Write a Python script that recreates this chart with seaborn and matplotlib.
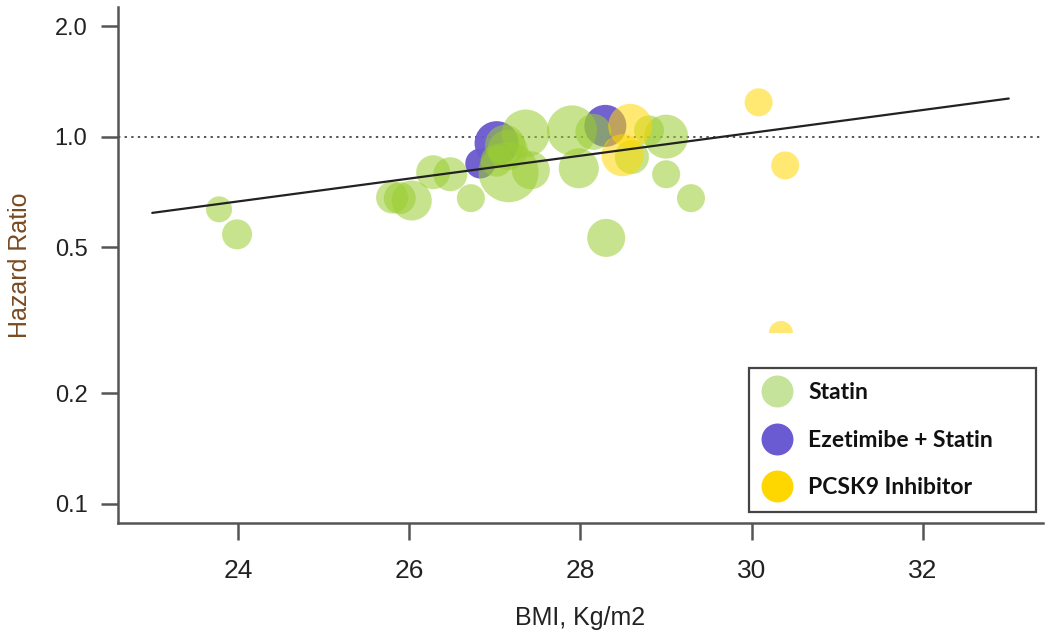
import matplotlib
matplotlib.use("Agg")
import matplotlib.pyplot as plt
from matplotlib.lines import Line2D
from matplotlib.patches import Rectangle
import seaborn as sns
import pandas as pd

# ---------------- data ----------------
statin_bmi = [23.78, 23.99, 25.80, 25.89, 26.03, 26.28, 26.48, 26.72, 27.16, 27.15,
              27.36, 27.42, 27.02, 27.90, 27.98, 28.15, 28.60, 28.80, 29.00, 29.00,
              29.29, 28.30, 27.12]
statin_hr = [0.634, 0.542, 0.683, 0.680, 0.670, 0.800, 0.790, 0.680, 0.800, 0.920,
             1.020, 0.810, 0.860, 1.040, 0.820, 1.030, 0.880, 1.040, 1.000, 0.790,
             0.680, 0.530, 0.950]
statin_w = [13, 15, 16, 16, 20, 17, 17, 14, 30, 20,
            24, 19, 16, 25, 20, 18, 17, 15, 22, 14,
            14, 19, 20]

eze_bmi = [26.83, 27.02, 28.29]
eze_hr = [0.845, 0.960, 1.070]
eze_w = [15, 22, 21]

pcsk9_bmi = [28.58, 28.49, 30.08, 30.39, 30.34]
pcsk9_hr = [1.07, 0.89, 1.24, 0.835, 0.292]
pcsk9_w = [22, 21, 14, 14, 12]

fit_bmi = [23.0, 33.0]
fit_hr = [0.62, 1.27]

groups = ["Statin", "Ezetimibe + Statin", "PCSK9 Inhibitor"]
y_ticks = [0.1, 0.2, 0.5, 1.0, 2.0]
y_ticklabels = ["0.1", "0.2", "0.5", "1.0", "2.0"]
x_ticks = [24, 26, 28, 30, 32]

# ---------------- style ----------------
sns.set_style("ticks")
plt.rcParams["font.family"] = ["Liberation Sans", "DejaVu Sans"]

fig = plt.figure(figsize=(10.5, 6.42), dpi=100)
ax = fig.add_axes([118 / 1050, 119 / 642, 925 / 1050, 516 / 642])

colors = {"Statin": "#9acd32", "Ezetimibe + Statin": "#6a5acd", "PCSK9 Inhibitor": "#ffd700"}
alphas = {"Statin": 0.55, "Ezetimibe + Statin": 0.95, "PCSK9 Inhibitor": 0.55}

frames = {
    "Ezetimibe + Statin": pd.DataFrame({"bmi": eze_bmi, "hr": eze_hr, "w": eze_w}),
    "Statin": pd.DataFrame({"bmi": statin_bmi, "hr": statin_hr, "w": statin_w}),
    "PCSK9 Inhibitor": pd.DataFrame({"bmi": pcsk9_bmi, "hr": pcsk9_hr, "w": pcsk9_w}),
}

# radius (px) -> marker area (pt^2)
for g in ["Ezetimibe + Statin", "Statin", "PCSK9 Inhibitor"]:
    d = frames[g].copy()
    d["area"] = (d["w"] * 2 * 0.72) ** 2
    sns.scatterplot(data=d, x="bmi", y="hr", size="area",
                    sizes=(d["area"].min(), d["area"].max()),
                    size_norm=(d["area"].min(), d["area"].max()),
                    color=colors[g], alpha=alphas[g], linewidth=0,
                    legend=False, ax=ax, zorder=3)

# clipped outlier (white patch as in reference)
ax.add_patch(Rectangle((30.05, 0.24), 0.6, 0.292 - 0.24, facecolor="white",
                       edgecolor="none", zorder=4))

# regression line & reference line
sns.lineplot(x=fit_bmi, y=fit_hr, color="#222222", linewidth=1.6, ax=ax, zorder=5)
ax.axhline(1.0, color="#555555", linewidth=1.4, linestyle=(0, (1.2, 2.2)), zorder=2)

ax.set_yscale("log")
ax.set_xlim(22.6, 33.4)
ax.set_ylim(10 ** -1.052, 10 ** 0.353)
ax.set_yticks(y_ticks)
ax.set_yticklabels(y_ticklabels)
ax.yaxis.set_minor_locator(matplotlib.ticker.NullLocator())
ax.set_xticks(x_ticks)
ax.set_xticklabels([str(t) for t in x_ticks])

for s in ["top", "right"]:
    ax.spines[s].set_visible(False)
for s in ["left", "bottom"]:
    ax.spines[s].set_color("#555555")
    ax.spines[s].set_linewidth(1.8)

ax.tick_params(axis="both", which="major", direction="out", length=12, width=1.8,
               color="#555555")
ax.tick_params(axis="y", labelsize=17, pad=10, labelcolor="#222222")
ax.tick_params(axis="x", labelsize=19, pad=14, labelcolor="#222222")

ax.set_xlabel("BMI, Kg/m2", fontsize=18, color="#222222")
ax.set_ylabel("Hazard Ratio", fontsize=18, color="#7a4a22")
ax.xaxis.set_label_coords(0.5, -0.161)
ax.yaxis.set_label_coords(-0.093, 0.5)

# legend
legend_colors = {"Statin": "#c5e39a", "Ezetimibe + Statin": "#6b5bd2", "PCSK9 Inhibitor": "#ffd700"}
handles = [Line2D([], [], marker="o", linestyle="", markersize=23,
                  markerfacecolor=legend_colors[g], markeredgecolor="none") for g in groups]
leg = ax.legend(handles, groups, loc="lower left",
                bbox_to_anchor=(0.682, 0.0213, 0.31, 0.28), mode="expand",
                prop={"family": ["Lato", "DejaVu Sans"], "weight": "bold", "size": 16.5},
                frameon=True, fancybox=False, framealpha=1, edgecolor="#444444",
                borderpad=0.6, handlelength=1.25, handletextpad=0.73, labelspacing=1.16,
                borderaxespad=0)
leg.get_frame().set_linewidth(1.6)
for t in leg.get_texts():
    t.set_color("#111111")

fig.savefig("out.png", dpi=100, facecolor="white")
